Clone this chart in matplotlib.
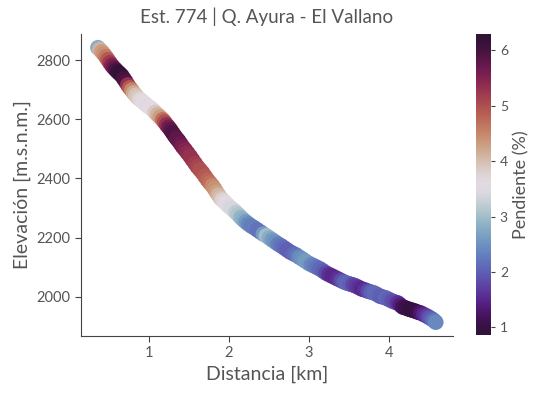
import matplotlib
matplotlib.use("Agg")
import matplotlib.pyplot as plt

plt.rcParams['font.family'] = ['Lato', 'DejaVu Sans']

distancia = [0.361, 0.386, 0.411, 0.436, 0.461, 0.486, 0.511, 0.535, 0.560, 0.585,
             0.610, 0.635, 0.660, 0.685, 0.710, 0.735, 0.760, 0.785, 0.809, 0.834,
             0.859, 0.890, 0.922, 0.953, 0.984, 1.015, 1.046, 1.077, 1.108, 1.139,
             1.171, 1.196, 1.220, 1.245, 1.270, 1.295, 1.320, 1.345, 1.370, 1.395,
             1.420, 1.451, 1.482, 1.513, 1.544, 1.575, 1.606, 1.638, 1.669, 1.700,
             1.731, 1.762, 1.793, 1.818, 1.843, 1.868, 1.893, 1.918, 1.943, 1.968,
             1.993, 2.024, 2.055, 2.086, 2.117, 2.148, 2.179, 2.210, 2.242, 2.279,
             2.316, 2.354, 2.391, 2.428, 2.466, 2.503, 2.540, 2.578, 2.615, 2.653,
             2.690, 2.727, 2.765, 2.802, 2.839, 2.877, 2.914, 2.951, 2.989, 3.026,
             3.064, 3.101, 3.138, 3.176, 3.213, 3.250, 3.288, 3.325, 3.362, 3.400,
             3.437, 3.474, 3.512, 3.549, 3.587, 3.624, 3.661, 3.699, 3.736, 3.773,
             3.811, 3.848, 3.885, 3.923, 3.960, 3.998, 4.035, 4.072, 4.110, 4.141,
             4.172, 4.209, 4.247, 4.284, 4.321, 4.359, 4.396, 4.433, 4.471, 4.502,
             4.533, 4.558, 4.583]
elevacion = [2842, 2835, 2828, 2820, 2811, 2801, 2791, 2782, 2774, 2767,
             2760, 2754, 2747, 2737, 2727, 2716, 2706, 2698, 2689, 2681,
             2673, 2666, 2659, 2652, 2645, 2639, 2632, 2623, 2615, 2607,
             2598, 2590, 2581, 2573, 2564, 2554, 2544, 2535, 2527, 2517,
             2507, 2497, 2486, 2475, 2463, 2451, 2439, 2429, 2419, 2407,
             2395, 2385, 2375, 2365, 2354, 2344, 2334, 2327, 2321, 2314,
             2307, 2300, 2293, 2285, 2277, 2268, 2260, 2253, 2246, 2239,
             2233, 2226, 2219, 2212, 2206, 2199, 2192, 2185, 2178, 2172,
             2165, 2158, 2151, 2146, 2141, 2134, 2128, 2121, 2114, 2109,
             2104, 2099, 2094, 2087, 2080, 2075, 2070, 2065, 2060, 2055,
             2050, 2046, 2043, 2040, 2036, 2031, 2026, 2023, 2019, 2016,
             2013, 2008, 2002, 1999, 1996, 1991, 1986, 1982, 1979, 1972,
             1965, 1962, 1958, 1955, 1952, 1948, 1945, 1940, 1935, 1930,
             1925, 1920, 1914]
pendiente = [2.8, 4.1, 4.3, 4.4, 4.6, 4.9, 5.2, 5.5, 5.7, 5.9,
             6.1, 6.2, 6.2, 6.0, 5.9, 5.3, 4.9, 4.5, 4.2, 4.0,
             3.9, 3.7, 3.6, 3.6, 3.5, 3.6, 3.6, 3.9, 4.1, 4.3,
             4.7, 5.0, 5.3, 5.6, 5.8, 5.9, 5.9, 5.8, 5.8, 5.7,
             5.6, 5.5, 5.4, 5.3, 5.3, 5.2, 5.1, 5.0, 5.0, 4.9,
             4.8, 4.7, 4.5, 4.4, 4.3, 4.1, 4.0, 3.8, 3.7, 3.6,
             3.5, 3.4, 3.4, 3.2, 3.1, 2.9, 2.8, 2.6, 2.4, 2.3,
             2.3, 2.2, 2.2, 2.6, 3.0, 2.8, 2.6, 2.5, 2.3, 2.2,
             2.1, 2.0, 2.0, 2.1, 2.2, 2.4, 2.5, 2.6, 2.6, 2.4,
             2.3, 2.2, 2.1, 2.0, 1.8, 1.6, 1.5, 1.5, 1.6, 1.8,
             2.0, 2.1, 2.0, 1.8, 1.7, 1.6, 1.5, 1.6, 1.8, 2.0,
             2.1, 2.1, 2.0, 2.0, 2.1, 2.0, 1.9, 1.8, 1.6, 1.4,
             1.2, 1.1, 1.0, 0.95, 0.95, 1.1, 1.3, 1.5, 1.7, 1.9,
             2.0, 2.2, 2.4]

txt = '#555555'
fig = plt.figure(figsize=(5.45, 3.99), dpi=100)
ax = fig.add_axes([0.1486, 0.158, 0.682, 0.757])
cax = fig.add_axes([0.873, 0.160, 0.0275, 0.754])

sc = ax.scatter(distancia, elevacion, c=pendiente, cmap='twilight_shifted',
                vmin=0.86, vmax=6.29, s=125, edgecolors='none')

ax.set_xticks([1, 2, 3, 4])
ax.set_yticks([2000, 2200, 2400, 2600, 2800])
for s in ['top', 'right']:
    ax.spines[s].set_visible(False)
for s in ['left', 'bottom']:
    ax.spines[s].set_color('#444444')
ax.tick_params(colors='#444444', labelcolor=txt, labelsize=10.5, length=4)
ax.set_xlabel('Distancia [km]', fontsize=14, color=txt)
ax.set_ylabel('Elevación [m.s.n.m.]', fontsize=14, color=txt)
ax.set_title('Est. 774 | Q. Ayura - El Vallano', fontsize=13.5, color=txt, pad=8)

cb = fig.colorbar(sc, cax=cax)
cb.outline.set_visible(False)
cb.set_ticks([1, 2, 3, 4, 5, 6])
cb.ax.tick_params(colors='#444444', labelcolor=txt, labelsize=10, length=3)
cb.set_label('Pendiente (%)', fontsize=13, color=txt)

fig.savefig('out.png', dpi=100)
